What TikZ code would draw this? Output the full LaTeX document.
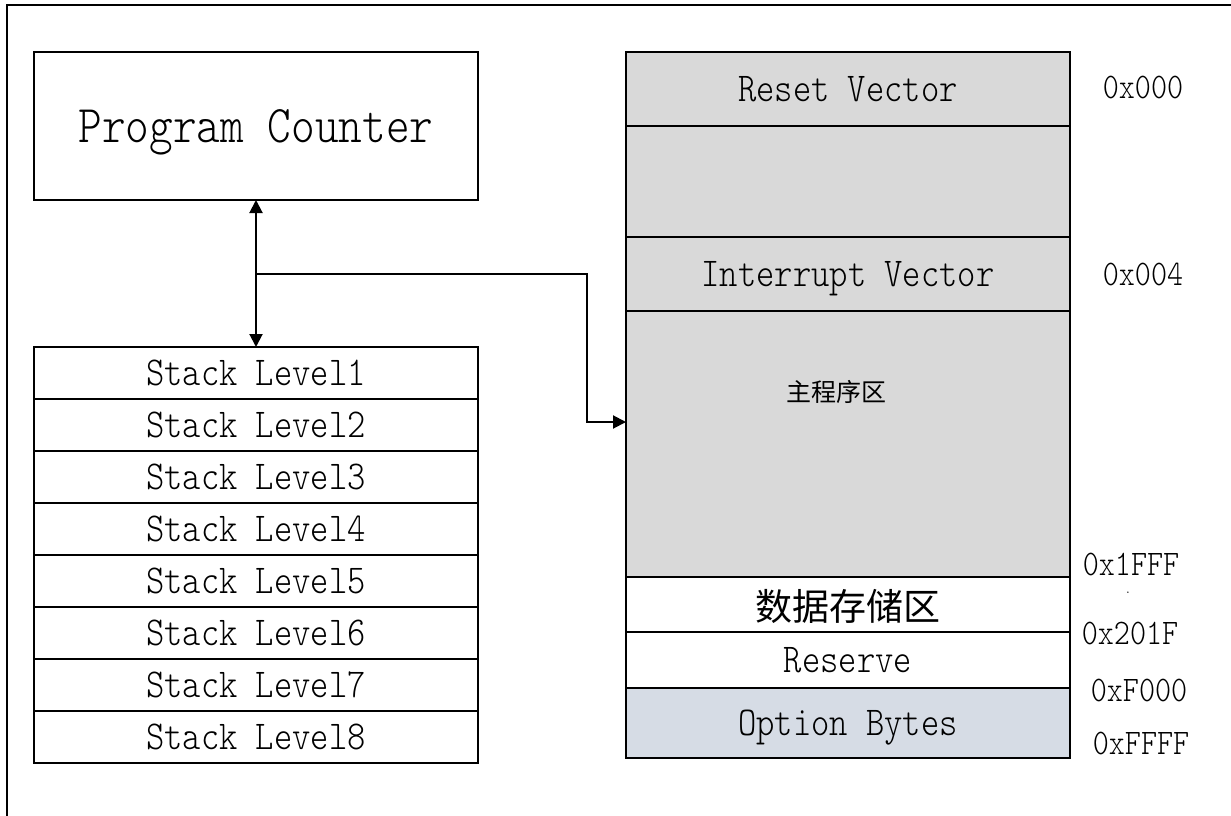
\documentclass[tikz,border=0pt]{standalone}
\usepackage{fontspec}
\newfontfamily\simmono{lmmonolt10-regular.otf}[FakeStretch=0.85]
\newfontfamily\cjk{Noto Sans CJK SC}
\usetikzlibrary{arrows.meta}
\definecolor{memgray}{HTML}{D9D9D9}
\definecolor{optblue}{HTML}{D6DCE5}
\begin{document}
\begin{tikzpicture}[x=1pt,y=-1pt,
  box/.style={draw=black, line width=2pt, inner sep=0pt, outer sep=0pt, text depth=0pt},
  stackrow/.style={box, minimum width=444pt, minimum height=52pt, font={\simmono\fontsize{41pt}{41pt}\selectfont}},
  memrow/.style={box, minimum width=444pt, font={\simmono\fontsize{41pt}{41pt}\selectfont}},
  addr/.style={inner sep=0pt, font={\simmono\fontsize{36pt}{36pt}\selectfont}},
  conn/.style={line width=2pt},
  tip/.style={-{Triangle[length=13pt,width=13pt]}},
  bitip/.style={{Triangle[length=13pt,width=13pt]}-{Triangle[length=13pt,width=13pt]}}
]
\useasboundingbox (0,0) rectangle (1231,816);
\clip (0,0) rectangle (1231,816);
% outer frame
\draw[line width=2pt] (7,5) rectangle (1260,840);

% program counter
\node[box, minimum width=444pt, minimum height=148pt, font={\simmono\fontsize{53pt}{53pt}\selectfont}] (pc) at (256,126) {Program Counter};

% stack
\foreach \i in {1,...,8} {
  \node[stackrow] (s\i) at (256,{347+52*(\i-0.5)}) {Stack Level\i};
}

% memory map
\node[memrow, fill=memgray, minimum height=74pt] (rv) at (848,89) {Reset Vector};
\node[memrow, fill=memgray, minimum height=111pt] (blank) at (848,181.5) {};
\node[memrow, fill=memgray, minimum height=74pt] (iv) at (848,274) {Interrupt Vector};
\node[memrow, fill=memgray, minimum height=266pt] (mainarea) at (848,444) {};
\node[font={\cjk\fontsize{25pt}{25pt}\selectfont}, inner sep=0pt] (mainlbl) at (836,392) {主程序区};
\node[memrow, fill=white, minimum height=55pt, font={\cjk\fontsize{37pt}{37pt}\selectfont}] (data) at (848,604.5) {数据存储区};
\node[memrow, fill=white, minimum height=56pt] (res) at (848,660) {Reserve};
\node[memrow, fill=optblue, minimum height=70pt] (opt) at (848,723) {Option Bytes};

% addresses
\node[addr] (a0) at (1143,88) {0x000};
\node[addr] (a4) at (1143,274) {0x004};
\node[addr] (a1fff) at (1131,564) {0x1FFF};
\node[addr, font={\simmono\fontsize{14pt}{14pt}\selectfont}] (dot) at (1128,593) {.};
\node[addr] (a201f) at (1130,633) {0x201F};
\node[addr] (af000) at (1139,690) {0xF000};
\node[addr] (affff) at (1141,743) {0xFFFF};

% connectors
\draw[conn, bitip] (pc.south) -- (s1.north);
\coordinate (junc) at (256,274);
\coordinate (bend1) at (587,274);
\coordinate (bend2) at (587,422);
\coordinate (mtip) at (626,422);
\draw[conn, tip] (junc) -- (bend1) -- (bend2) -- (mtip);
\end{tikzpicture}
\end{document}
